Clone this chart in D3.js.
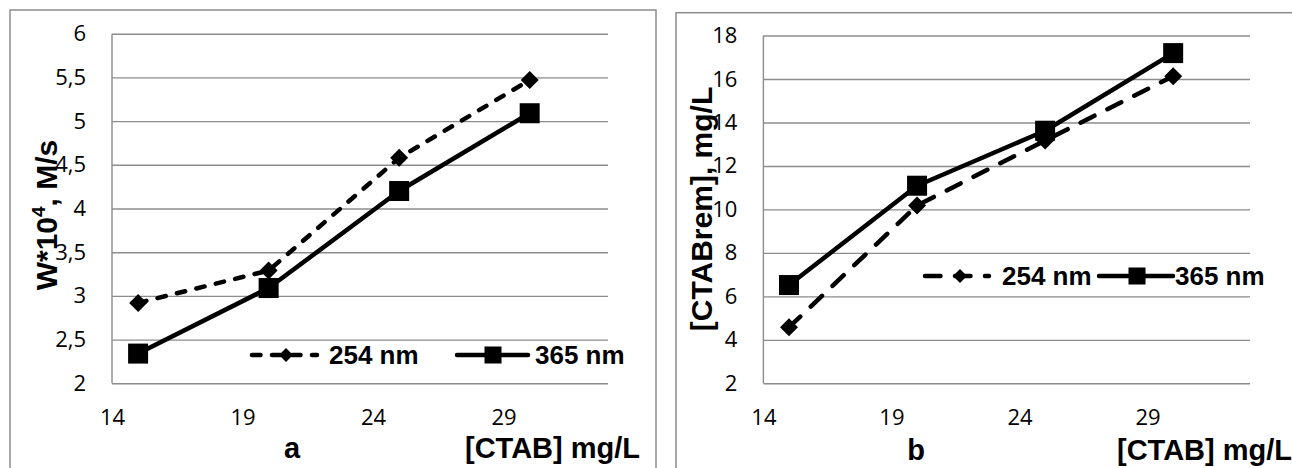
<!DOCTYPE html>
<html>
<head>
<meta charset="utf-8">
<script src="https://cdn.jsdelivr.net/npm/d3@7"></script>
<style>
  body { margin: 0; background: #fff; }
  svg { display: block; }
</style>
</head>
<body>
<div id="chart"></div>
<script>
// Data
var conc = [15, 20, 25, 30];
var xTicks = [14, 19, 24, 29];

// panel a: rate W*10^4, M/s
var rate254 = [2.92, 3.29, 4.58, 5.47];
var rate365 = [2.34, 3.09, 4.2, 5.09];
var yTicksA = [2, 2.5, 3, 3.5, 4, 4.5, 5, 5.5, 6];

// panel b: removed CTAB, mg/L
var rem254 = [4.58, 10.18, 13.17, 16.13];
var rem365 = [6.52, 11.09, 13.62, 17.19];
var yTicksB = [2, 4, 6, 8, 10, 12, 14, 16, 18];

var seriesNames = ["254 nm", "365 nm"];

var W = 1292, H = 468;
var svg = d3.select("#chart").append("svg")
    .attr("width", W)
    .attr("height", H);

var grid = "#8c8c8c";
var tickFont = "'Open Sans', 'Noto Sans', sans-serif";
var boldFont = "'Liberation Sans', Arial, sans-serif";

// comma decimal, like the original
var fmt = function(d) { return String(d).replace(".", ","); };

function diamond(g, x, y, r) {
    g.append("path")
        .attr("d", "M" + x + "," + (y - r) + "L" + (x + r) + "," + y +
                   "L" + x + "," + (y + r) + "L" + (x - r) + "," + y + "Z")
        .attr("fill", "#000");
}

function square(g, x, y, s) {
    g.append("rect")
        .attr("x", x - s / 2).attr("y", y - s / 2)
        .attr("width", s).attr("height", s)
        .attr("fill", "#000");
}

function drawPanel(p) {
    // outer frame
    svg.append("rect")
        .attr("x", p.frame[0]).attr("y", p.frame[1])
        .attr("width", p.frame[2]).attr("height", p.frame[3])
        .attr("fill", "none")
        .attr("stroke", grid)
        .attr("stroke-width", 1.5);

    var x = d3.scaleLinear().domain([14, 33]).range([p.left, p.right]);
    var y = d3.scaleLinear().domain(p.yDomain).range([p.bottom, p.top]);

    // y axis + gridlines
    var ya = svg.append("g")
        .attr("transform", "translate(" + p.left + ",0)")
        .call(d3.axisLeft(y).tickValues(p.yTicks)
            .tickSize(-(p.right - p.left)).tickPadding(26).tickFormat(fmt));
    ya.select(".domain").remove();
    ya.selectAll("line").attr("stroke", grid).attr("stroke-width", 1.4);
    ya.selectAll("text")
        .attr("font-family", tickFont).attr("font-size", 22)
        .attr("fill", "#000");

    svg.append("line")
        .attr("x1", p.left).attr("x2", p.left)
        .attr("y1", y(p.yDomain[1])).attr("y2", y(p.yDomain[0]))
        .attr("stroke", grid).attr("stroke-width", 1.4);

    // x axis labels
    var xa = svg.append("g")
        .attr("transform", "translate(0," + p.bottom + ")")
        .call(d3.axisBottom(x).tickValues(xTicks).tickSize(0).tickPadding(26));
    xa.select(".domain").remove();
    xa.selectAll("text")
        .attr("font-family", tickFont).attr("font-size", 22)
        .attr("fill", "#000");

    // lines
    var line = d3.line()
        .x(function(d, i) { return x(conc[i]); })
        .y(function(d) { return y(d); });

    svg.append("path")
        .datum(p.s254)
        .attr("d", line)
        .attr("fill", "none")
        .attr("stroke", "#000")
        .attr("stroke-width", 4.5)
        .attr("stroke-linecap", "round")
        .attr("stroke-dasharray", p.dash);

    svg.append("path")
        .datum(p.s365)
        .attr("d", line)
        .attr("fill", "none")
        .attr("stroke", "#000")
        .attr("stroke-width", 4.5)
        .attr("stroke-linejoin", "round");

    var mk = svg.append("g");
    p.s254.forEach(function(d, i) { diamond(mk, x(conc[i]), y(d), 9); });
    p.s365.forEach(function(d, i) { square(mk, x(conc[i]), y(d), 20); });

    // legend
    var lg = svg.append("g");
    var L = p.legend;
    lg.append("line")
        .attr("x1", L.d0).attr("x2", L.d1).attr("y1", L.y).attr("y2", L.y)
        .attr("stroke", "#000").attr("stroke-width", 4.5)
        .attr("stroke-linecap", "round")
        .attr("stroke-dasharray", L.dash);
    diamond(lg, L.dm, L.y, 7);
    lg.append("text")
        .attr("x", L.t0).attr("y", L.y + 9)
        .attr("font-family", boldFont).attr("font-weight", "bold")
        .attr("font-size", 26)
        .text(seriesNames[0]);
    lg.append("line")
        .attr("x1", L.s0).attr("x2", L.s1).attr("y1", L.y).attr("y2", L.y)
        .attr("stroke", "#000").attr("stroke-width", 4.5)
        .attr("stroke-linecap", "round");
    square(lg, L.sm, L.y, 17);
    lg.append("text")
        .attr("x", L.t1).attr("y", L.y + 9)
        .attr("font-family", boldFont).attr("font-weight", "bold")
        .attr("font-size", 26)
        .text(seriesNames[1]);

    // titles
    var yt = svg.append("text")
        .attr("transform", "translate(" + p.yTitle[0] + "," + p.yTitle[1] + ") rotate(-90)")
        .attr("text-anchor", "middle")
        .attr("font-family", boldFont).attr("font-weight", "bold")
        .attr("font-size", 30);
    p.yTitleParts.forEach(function(t) {
        var ts = yt.append("tspan").text(t.text);
        if (t.sup) ts.attr("font-size", 19).attr("dy", -12);
        if (t.after) ts.attr("dy", 12);
    });

    svg.append("text")
        .attr("x", p.letter[0]).attr("y", p.letter[1])
        .attr("text-anchor", "middle")
        .attr("font-family", boldFont).attr("font-weight", "bold")
        .attr("font-size", 29)
        .text(p.letterText);

    svg.append("text")
        .attr("x", p.xTitle[0]).attr("y", p.xTitle[1])
        .attr("font-family", boldFont).attr("font-weight", "bold")
        .attr("font-size", 29)
        .text("[CTAB] mg/L");
}

drawPanel({
    frame: [10, 10, 646, 480],
    left: 112, right: 608, top: 33.7, bottom: 383.3,
    yDomain: [2, 6], yTicks: yTicksA,
    s254: rate254, s365: rate365,
    dash: "8.5,11.5",
    legend: { y: 355, d0: 252, d1: 317, dm: 286, t0: 329, s0: 457, s1: 528, sm: 493, t1: 535, dash: "8.5,11.5" },
    yTitle: [57, 215],
    yTitleParts: [{ text: "W*10" }, { text: "4", sup: true }, { text: ", M/s", after: true }],
    letter: [292, 458], letterText: "a",
    xTitle: [465, 458]
});

drawPanel({
    frame: [676, 12.7, 640, 480],
    left: 763.4, right: 1250, top: 35.5, bottom: 383.3,
    yDomain: [2, 18], yTicks: yTicksB,
    s254: rem254, s365: rem365,
    dash: "15.5,14.5",
    legend: { y: 276, d0: 925, d1: 989, dm: 960, t0: 1002, s0: 1099, s1: 1173, sm: 1137, t1: 1175, dash: "15.5,14.5" },
    yTitle: [712, 209],
    yTitleParts: [{ text: "[CTABrem], mg/L" }],
    letter: [916, 460], letterText: "b",
    xTitle: [1117, 460]
});
</script>
</body>
</html>
